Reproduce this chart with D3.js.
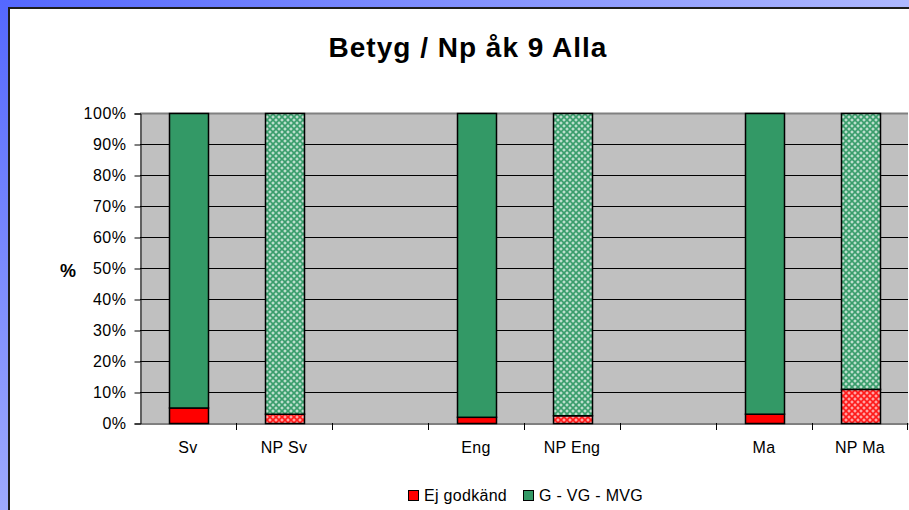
<!DOCTYPE html>
<html>
<head>
<meta charset="utf-8">
<script src="https://cdn.jsdelivr.net/npm/d3@7"></script>
<style>
  html, body { margin: 0; padding: 0; background: #fff; }
  svg { display: block; font-family: "Liberation Sans", Arial, sans-serif; }
</style>
</head>
<body>
<svg id="chart" width="909" height="510"></svg>
<script>
// Subjects: final grade (Betyg) next to the national test (NP); empty slots separate the groups
const categories = ["Sv", "NP Sv", "gap1", "Eng", "NP Eng", "gap2", "Ma", "NP Ma"];
const categoryLabels = ["Sv", "NP Sv", "", "Eng", "NP Eng", "", "Ma", "NP Ma"];
const isTest = [false, true, false, false, true, false, false, true];
// Share of pupils (%) per category; null = empty slot
const ejGodkand = [5, 3, null, 2, 2.5, null, 3, 11];
const godkand   = [95, 97, null, 98, 97.5, null, 97, 89];
const seriesNames = ["Ej godkänd", "G - VG - MVG"];
const seriesColors = ["#ff0000", "#339966"];
const yTicks = [0, 10, 20, 30, 40, 50, 60, 70, 80, 90, 100];

const svg = d3.select("#chart");
const W = 909, H = 510;
const FONT = "'Liberation Sans', Arial, sans-serif";
const defs = svg.append("defs");

// Frame gradients
const gTop = defs.append("linearGradient").attr("id", "gTop").attr("x1", 0).attr("x2", 1).attr("y1", 0).attr("y2", 0);
gTop.append("stop").attr("offset", 0).attr("stop-color", "#5468ff");
gTop.append("stop").attr("offset", 1).attr("stop-color", "#aeb8ff");
const gLeft = defs.append("linearGradient").attr("id", "gLeft").attr("x1", 0).attr("x2", 0).attr("y1", 0).attr("y2", 1);
gLeft.append("stop").attr("offset", 0).attr("stop-color", "#5468ff");
gLeft.append("stop").attr("offset", 1).attr("stop-color", "#9eaaff");

// Confetti-style patterns for the test bars
function makePattern(id, base, light) {
  const s = 6, h = s / 2;
  const p = defs.append("pattern").attr("id", id).attr("patternUnits", "userSpaceOnUse")
    .attr("width", s).attr("height", s);
  p.append("rect").attr("width", s).attr("height", s).attr("fill", base);
  const dots = [[h, h], [0, 0], [s, 0], [0, s], [s, s]];
  dots.forEach(([cx, cy]) => {
    p.append("rect").attr("x", cx - 1.5).attr("y", cy - 0.5).attr("width", 3).attr("height", 1).attr("fill", light);
    p.append("rect").attr("x", cx - 0.5).attr("y", cy - 1.5).attr("width", 1).attr("height", 3).attr("fill", light);
  });
}
makePattern("patGreen", "#3a9d6c", "#e6f4ec");
makePattern("patRed", "#ff1a1a", "#ffd0d0");

// Background frame
svg.append("rect").attr("x", 0).attr("y", 0).attr("width", W).attr("height", 8).attr("fill", "url(#gTop)");
svg.append("rect").attr("x", 0).attr("y", 0).attr("width", 9).attr("height", H).attr("fill", "url(#gLeft)");
svg.append("rect").attr("x", 8).attr("y", 7).attr("width", W - 8).attr("height", H - 7).attr("fill", "#1e1e1e");
svg.append("rect").attr("x", 10).attr("y", 9).attr("width", W - 10).attr("height", H - 9).attr("fill", "#ffffff");

// Title
svg.append("text").attr("x", 468).attr("y", 57).attr("text-anchor", "middle")
  .attr("font-size", 28).attr("font-weight", "bold").attr("letter-spacing", 1).attr("fill", "#000")
  .text("Betyg / Np åk 9 Alla");

// Y axis title
svg.append("text").attr("x", 68).attr("y", 277).attr("text-anchor", "middle")
  .attr("font-size", 18).attr("font-weight", "bold").text("%");

const xSlot = d3.scaleBand().domain(categories).range([140, 908]);
const y = d3.scaleLinear().domain([0, 100]).range([423, 113]);

// Plot area
svg.append("rect").attr("x", 140).attr("y", 113).attr("width", 768).attr("height", 310).attr("fill", "#c0c0c0");

// Gridlines
svg.append("g").selectAll("line").data(yTicks.filter(d => d > 0)).join("line")
  .attr("x1", 140).attr("x2", 908)
  .attr("y1", d => y(d) + 0.5).attr("y2", d => y(d) + 0.5)
  .attr("stroke", d => d === 100 ? "#808080" : "#000").attr("stroke-width", d => d === 100 ? 2 : 1);

// Y axis
const yAxis = d3.axisLeft(y).tickValues(yTicks).tickFormat(d => d + "%").tickSize(6).tickPadding(8);
const gy = svg.append("g").attr("transform", "translate(140.5,0.5)").call(yAxis);
gy.select(".domain").attr("stroke", "#000");
gy.selectAll(".tick line").attr("stroke", "#000");
gy.selectAll("text").attr("font-size", 16).attr("letter-spacing", 0.5).attr("fill", "#000")
  .attr("font-family", FONT);

// X axis
const xAxis = d3.axisBottom(xSlot).tickFormat((d, i) => categoryLabels[i]).tickSize(0).tickPadding(18);
const gx = svg.append("g").attr("transform", "translate(0,423.5)").call(xAxis);
gx.select(".domain").attr("stroke", "#000");
gx.selectAll("text").attr("font-size", 16).attr("letter-spacing", 0.3).attr("fill", "#000")
  .attr("font-family", FONT);
// Slot boundary ticks
svg.append("g").selectAll("line").data(categories.slice(1)).join("line")
  .attr("x1", d => Math.round(xSlot(d)) + 0.5).attr("x2", d => Math.round(xSlot(d)) + 0.5)
  .attr("y1", 423).attr("y2", 430).attr("stroke", "#000");
svg.append("line").attr("x1", 907.5).attr("x2", 907.5).attr("y1", 423).attr("y2", 430).attr("stroke", "#000");

// Stacked bars
const rows = categories.map((c, i) => ({ c, i, a: ejGodkand[i], b: godkand[i], test: isTest[i] }))
  .filter(r => r.a !== null);
const stack = d3.stack().keys(["a", "b"]);
const layers = stack(rows);
const bw = 39;
layers.forEach((layer, li) => {
  svg.append("g").selectAll("rect").data(layer).join("rect")
    .attr("x", d => Math.round(xSlot(d.data.c) + xSlot.bandwidth() / 2 - bw / 2) + 0.5)
    .attr("y", d => y(d[1]) + 0.5)
    .attr("width", bw)
    .attr("height", d => y(d[0]) - y(d[1]))
    .attr("fill", d => d.data.test ? (li === 0 ? "url(#patRed)" : "url(#patGreen)") : seriesColors[li])
    .attr("stroke", "#000").attr("stroke-width", 1.5);
});

// Legend
const legend = svg.append("g");
const legendItems = [{ x: 408, name: seriesNames[0], color: seriesColors[0] },
                     { x: 523, name: seriesNames[1], color: seriesColors[1] }];
legendItems.forEach(it => {
  legend.append("rect").attr("x", it.x + 0.5).attr("y", 490.5).attr("width", 10).attr("height", 10)
    .attr("fill", it.color).attr("stroke", "#000");
  legend.append("text").attr("x", it.x + 16).attr("y", 501).attr("font-size", 16)
    .attr("letter-spacing", 0.3).attr("fill", "#000").text(it.name);
});
</script>
</body>
</html>
